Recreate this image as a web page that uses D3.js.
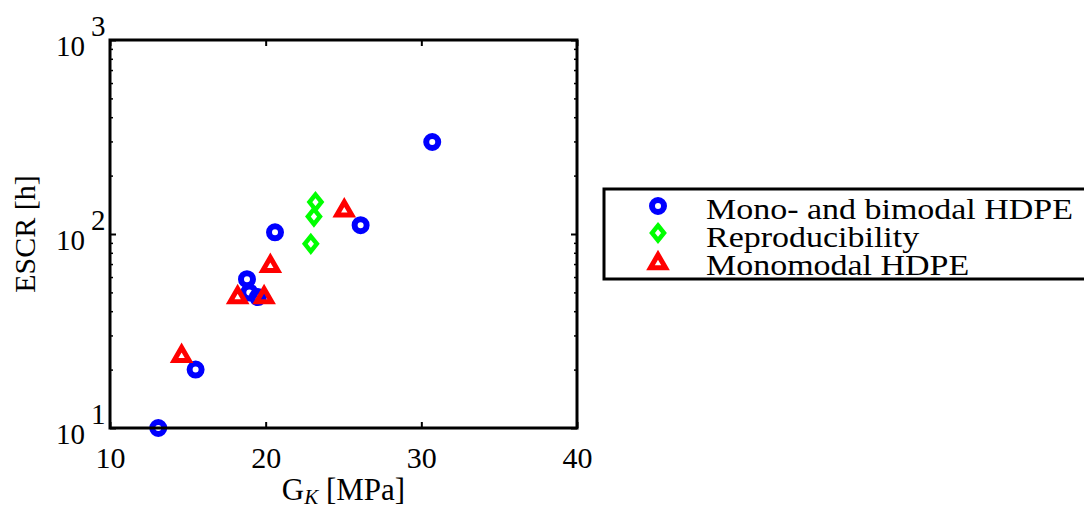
<!DOCTYPE html>
<html>
<head>
<meta charset="utf-8">
<script src="https://cdn.jsdelivr.net/npm/d3@7"></script>
<style>
    body { margin: 0; background: #fff; }
    svg { display: block; }
    text { font-family: "Liberation Serif", "Times New Roman", serif; fill: #000; }
</style>
</head>
<body>
<div class="chart"></div>
<script>

// data (x = G_K in MPa, y = ESCR in h)
const monoBiX = [13.1, 15.5, 18.8, 18.95, 19.5, 20.6, 26.1, 30.7]
const monoBiY = [10, 20, 58.5, 50, 47.3, 102, 111, 298]

const reproX = [23.2, 23.1, 22.9]
const reproY = [146, 123, 89]

const monoX = [14.6, 18.2, 19.9, 20.3, 25.05]
const monoY = [24.4, 49, 49, 71, 137.5]

const seriesNames = ["Mono- and bimodal HDPE", "Reproducibility", "Monomodal HDPE"]

const xTicks = [10, 20, 30, 40]
const yTicks = [10, 100, 1000]
const yTickExp = ["1", "2", "3"]
const yMinorTicks = [20, 30, 40, 50, 60, 70, 80, 90, 200, 300, 400, 500, 600, 700, 800, 900]

// layout
const margin = ({ top: 40, right: 507, bottom: 80, left: 110 })
const width = 1084 - margin.left - margin.right,
    height = 508 - margin.top - margin.bottom;

const serif = "'Liberation Serif', 'Times New Roman', serif"

let svg = d3.select(".chart").append("svg")
    .attr("width", 1084)
    .attr("height", 508)
    .attr("font-family", serif)

let g = svg.append("g")
    .attr("transform", "translate(" + margin.left + "," + margin.top + ")");

let xScale = d3.scaleLinear()
    .domain([10, 40])
    .range([0, width])

let yScale = d3.scaleLog()
    .domain([10, 1000])
    .range([height, 0])

// marker shapes (matlab style, hollow with thick outline)
const markers = {
    circle: { color: "#0000ff", path: d3.symbol().type(d3.symbolCircle).size(Math.PI * 36)(), sw: 6 },
    diamond: { color: "#00ff00", path: "M0,-7.5L6,0L0,7.5L-6,0Z", sw: 4.5 },
    triangle: { color: "#ff0000", path: "M0,-5.25L7.5,7.75L-7.5,7.75Z", sw: 5 }
}

function drawMarker(sel, kind) {
    sel.append("path")
        .attr("d", markers[kind].path)
        .attr("fill", "none")
        .attr("stroke", markers[kind].color)
        .attr("stroke-width", markers[kind].sw)
        .attr("stroke-linejoin", "miter")
}

// axes: ticks point inward on all four sides
let xAxisB = d3.axisBottom(xScale).tickValues(xTicks).tickSizeInner(-6).tickSizeOuter(0).tickFormat("")
let xAxisT = d3.axisTop(xScale).tickValues(xTicks).tickSizeInner(-6).tickSizeOuter(0).tickFormat("")
let yAxisL = d3.axisLeft(yScale).tickValues(yTicks).tickSizeInner(-6).tickSizeOuter(0).tickFormat("")
let yAxisR = d3.axisRight(yScale).tickValues(yTicks).tickSizeInner(-6).tickSizeOuter(0).tickFormat("")
let yMinorL = d3.axisLeft(yScale).tickValues(yMinorTicks).tickSizeInner(-3).tickSizeOuter(0).tickFormat("")
let yMinorR = d3.axisRight(yScale).tickValues(yMinorTicks).tickSizeInner(-3).tickSizeOuter(0).tickFormat("")

g.append("g").attr("class", "axis x-axis").attr("transform", `translate(0, ${height})`).call(xAxisB)
g.append("g").attr("class", "axis").call(xAxisT)
g.append("g").attr("class", "axis y-axis").call(yAxisL)
g.append("g").attr("class", "axis").attr("transform", `translate(${width}, 0)`).call(yAxisR)
g.append("g").attr("class", "axis minor").call(yMinorL)
g.append("g").attr("class", "axis minor").attr("transform", `translate(${width}, 0)`).call(yMinorR)

// d3 puts sans-serif on axis groups, undo that
g.selectAll(".axis").attr("font-family", serif).attr("font-size", null)
g.selectAll(".axis .domain").remove()
g.selectAll(".axis line").attr("stroke", "#000").attr("stroke-width", 2)
g.selectAll(".minor line").attr("stroke-width", 1.5)

// x tick labels
g.select(".x-axis").selectAll(".tick")
    .append("text")
    .attr("y", 40)
    .attr("text-anchor", "middle")
    .attr("font-size", 30)
    .attr("fill", "#000")
    .text(d => d)

// y tick labels 10^k
let yt = g.select(".y-axis").selectAll(".tick")
yt.append("text")
    .attr("x", -25)
    .attr("y", 15)
    .attr("text-anchor", "end")
    .attr("font-size", 29)
    .attr("fill", "#000")
    .text("10")
yt.append("text")
    .attr("x", -19)
    .attr("y", -5)
    .attr("text-anchor", "start")
    .attr("font-size", 29)
    .attr("fill", "#000")
    .text((d, i) => yTickExp[i])

// points
function plotSeries(xs, ys, kind) {
    let pts = g.append("g").selectAll("g")
        .data(xs.map((x, i) => ({ x: x, y: ys[i] })))
        .enter().append("g")
        .attr("transform", d => `translate(${xScale(d.x)},${yScale(d.y)})`)
    drawMarker(pts, kind)
}
plotSeries(monoBiX, monoBiY, "circle")
plotSeries(reproX, reproY, "diamond")
plotSeries(monoX, monoY, "triangle")

// frame
g.append("rect")
    .attr("width", width)
    .attr("height", height)
    .attr("fill", "none")
    .attr("stroke", "#000")
    .attr("stroke-width", 3)

// axis titles
let xl = svg.append("text")
    .attr("x", margin.left + width / 2)
    .attr("y", 500)
    .attr("text-anchor", "middle")
    .attr("font-size", 31)
xl.append("tspan").text("G")
xl.append("tspan").attr("font-size", 21).attr("font-style", "italic").attr("dy", 4).text("K")
xl.append("tspan").attr("dy", -4).text("\u00a0[MPa]")

svg.append("text")
    .attr("transform", "translate(35," + (margin.top + height / 2) + ") rotate(-90)")
    .attr("text-anchor", "middle")
    .attr("font-size", 30)
    .text("ESCR [h]")

// legend
let legend = svg.append("g").attr("class", "legend")
legend.append("rect")
    .attr("x", 604)
    .attr("y", 189)
    .attr("width", 520)
    .attr("height", 90)
    .attr("fill", "#fff")
    .attr("stroke", "#000")
    .attr("stroke-width", 3)

const legendKinds = ["circle", "diamond", "triangle"]
const legendMarkerY = [206, 233, 260]
const legendTextY = [219, 247, 275]

legendKinds.forEach(function (k, i) {
    let m = legend.append("g").attr("transform", `translate(658, ${legendMarkerY[i]})`)
    drawMarker(m, k)
})

let labels = legend.selectAll(".lbl")
    .data(seriesNames)
    .enter().append("text")
    .attr("class", "lbl")
    .attr("x", 706)
    .attr("y", (d, i) => legendTextY[i])
    .attr("font-size", 30)
    .text(d => d)

// computer modern is wider than times, stretch a bit to match
let stretch = 367 / labels.node().getComputedTextLength()
labels.each(function () {
    let len = this.getComputedTextLength()
    d3.select(this).attr("textLength", len * stretch).attr("lengthAdjust", "spacingAndGlyphs")
})

</script>
</body>
</html>
